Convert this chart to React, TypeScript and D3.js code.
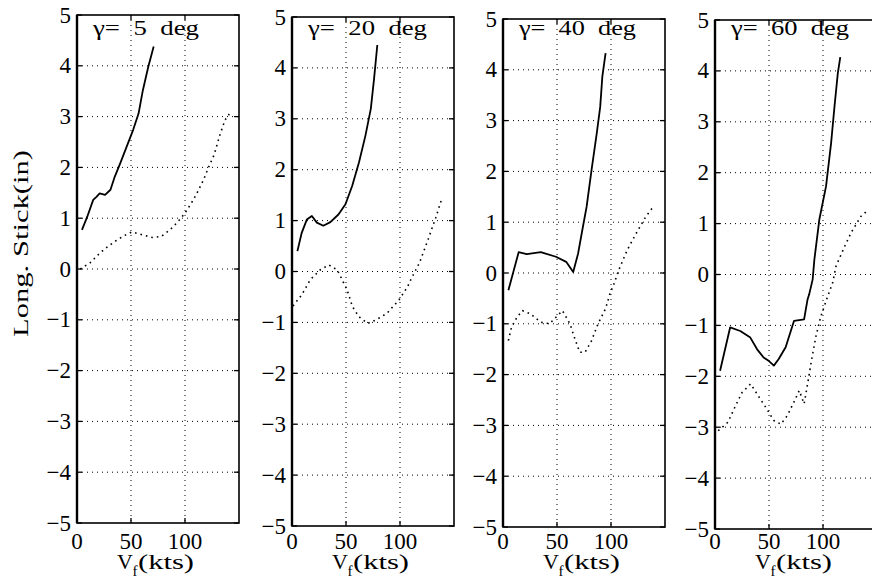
import React from 'react';
import * as d3 from 'd3';

// ---- data ----
const gammaLabels = ['γ=\u00a0\u00a05\u00a0\u00a0deg', 'γ=\u00a0\u00a020\u00a0\u00a0deg', 'γ=\u00a0\u00a040\u00a0\u00a0deg', 'γ=\u00a0\u00a060\u00a0\u00a0deg'];
const yTickValues = [-5, -4, -3, -2, -1, 0, 1, 2, 3, 4, 5];
const xTickValues = [0, 50, 100];
const xGridValues = [50, 100];

// gamma = 5 deg
const g5SolidVf = [4.6, 9.5, 15, 18, 21, 26, 31, 35, 40, 46, 52, 57, 61, 66, 71];
const g5SolidStick = [0.77, 1.03, 1.36, 1.42, 1.49, 1.46, 1.56, 1.82, 2.08, 2.41, 2.74, 3.06, 3.52, 3.98, 4.38];
const g5DotVf = [3, 12, 21, 29, 37, 44, 51, 61, 70, 78, 86, 93, 100, 106, 111, 117, 122, 127, 132, 137, 141];
const g5DotStick = [0.0, 0.12, 0.31, 0.45, 0.57, 0.66, 0.73, 0.67, 0.62, 0.64, 0.77, 0.92, 1.1, 1.3, 1.49, 1.75, 2.01, 2.25, 2.62, 2.93, 3.05];

// gamma = 20 deg
const g20SolidVf = [5, 9, 13.7, 18.4, 23, 29, 35.5, 43, 49.5, 55.7, 62, 68, 73, 76, 79];
const g20SolidStick = [0.4, 0.76, 1.02, 1.09, 0.96, 0.9, 0.97, 1.12, 1.32, 1.68, 2.14, 2.67, 3.2, 3.79, 4.45];
const g20DotVf = [1, 3, 9, 17, 26, 34, 42, 48, 51, 56, 62, 70, 78, 88, 99, 107, 110, 118, 126, 133, 139];
const g20DotStick = [-0.68, -0.62, -0.46, -0.16, 0.03, 0.13, 0.03, -0.23, -0.36, -0.69, -0.89, -1.02, -0.95, -0.82, -0.56, -0.3, -0.16, 0.17, 0.63, 1.05, 1.45];

// gamma = 40 deg
const g40SolidVf = [5, 14.5, 22, 35, 49, 58.5, 65, 69.5, 74, 77.4, 82, 86.8, 90, 92, 95];
const g40SolidStick = [-0.34, 0.41, 0.37, 0.41, 0.32, 0.22, 0.02, 0.38, 0.91, 1.3, 2.03, 2.75, 3.27, 3.87, 4.33];
const g40DotVf = [5, 8, 13, 18, 25, 35, 43, 49, 55, 62, 66, 71, 76, 82, 88, 95, 99, 103, 107, 115, 123, 132, 140];
const g40DotStick = [-1.33, -1.06, -0.87, -0.74, -0.8, -0.97, -1.0, -0.87, -0.74, -1.0, -1.26, -1.56, -1.56, -1.33, -1.0, -0.7, -0.41, -0.2, 0.05, 0.45, 0.77, 1.1, 1.33];

// gamma = 60 deg
const g60SolidVf = [4.7, 14, 23.4, 32.7, 39, 45, 50, 54.5, 59, 65.4, 73.2, 82.5, 85.7, 87.2, 90.4, 92, 96.6, 102.8, 107.5, 110.6, 113.7, 116];
const g60SolidStick = [-1.89, -1.04, -1.11, -1.24, -1.47, -1.63, -1.7, -1.79, -1.66, -1.43, -0.91, -0.88, -0.49, -0.39, -0.1, 0.29, 1.08, 1.73, 2.58, 3.29, 3.95, 4.27];
const g60DotVf = [3, 12, 19, 25, 33, 39, 47, 54.5, 61, 67, 73, 78, 82.5, 86, 89, 93.5, 98, 104, 109, 112, 120, 126, 135, 142];
const g60DotStick = [-3.07, -2.9, -2.58, -2.32, -2.15, -2.35, -2.61, -2.87, -2.94, -2.77, -2.51, -2.28, -2.54, -2.12, -1.73, -1.21, -0.82, -0.45, -0.16, 0.16, 0.55, 0.82, 1.14, 1.27];

const solidVf = [g5SolidVf, g20SolidVf, g40SolidVf, g60SolidVf];
const solidStick = [g5SolidStick, g20SolidStick, g40SolidStick, g60SolidStick];
const dotVf = [g5DotVf, g20DotVf, g40DotVf, g60DotVf];
const dotStick = [g5DotStick, g20DotStick, g40DotStick, g60DotStick];

// ---- layout ----
const W = 872;
const H = 579;
const panelLeft = [77, 292, 503, 715];
const panelTop = [15, 17, 19, 20];
const panelBottom = [523, 526, 527, 529];
const panelWidth = 162;
const titleWidths = [106, 119, 117, 118];
const FONT = 'Liberation Serif';

const fmt = (v: number) => (v < 0 ? '\u2212' + Math.abs(v) : String(v));

function Panel({ i }: { i: number }) {
  const left = panelLeft[i];
  const right = left + panelWidth;
  const top = panelTop[i];
  const bottom = panelBottom[i];
  const x = d3.scaleLinear().domain([0, 150]).range([left, right]);
  const y = d3.scaleLinear().domain([-5, 5]).range([bottom, top]);
  const line = d3
    .line<[number, number]>()
    .x((d) => x(d[0]))
    .y((d) => y(d[1]));
  const solid = solidVf[i].map((v, k) => [v, solidStick[i][k]] as [number, number]);
  const dotted = dotVf[i].map((v, k) => [v, dotStick[i][k]] as [number, number]);
  const clipId = `clip${i}`;
  return (
    <g>
      <defs>
        <clipPath id={clipId}>
          <rect x={left} y={top} width={panelWidth} height={bottom - top} />
        </clipPath>
      </defs>
      <g stroke="#000" strokeWidth={1} strokeDasharray="1,4" fill="none">
        {yTickValues
          .filter((t) => t > -5 && t < 5)
          .map((t) => (
            <line key={'gy' + t} x1={left} x2={right} y1={y(t)} y2={y(t)} />
          ))}
        {xGridValues.map((t) => (
          <line key={'gx' + t} x1={x(t)} x2={x(t)} y1={top} y2={bottom} />
        ))}
      </g>
      <g clipPath={`url(#${clipId})`} fill="none">
        <path d={line(dotted) || ''} stroke="#000" strokeWidth={1.6} strokeDasharray="1.6,4" />
        <path d={line(solid) || ''} stroke="#000" strokeWidth={1.8} strokeLinejoin="round" />
      </g>
      <rect x={left} y={top} width={panelWidth} height={bottom - top} fill="none" stroke="#000" strokeWidth={1.6} />
      <line x1={left} x2={left} y1={top} y2={bottom} stroke="#000" strokeWidth={2.4} />
      <g stroke="#000" strokeWidth={1.3}>
        {yTickValues.map((t) => (
          <g key={'ty' + t}>
            <line x1={left} x2={left + 5} y1={y(t)} y2={y(t)} />
            <line x1={right} x2={right - 5} y1={y(t)} y2={y(t)} />
          </g>
        ))}
        {xTickValues.map((t) => (
          <g key={'tx' + t}>
            <line x1={x(t)} x2={x(t)} y1={bottom} y2={bottom - 5} />
            <line x1={x(t)} x2={x(t)} y1={top} y2={top + 5} />
          </g>
        ))}
      </g>
      {yTickValues.map((t) => (
        <text
          key={'ly' + t}
          x={left - 6}
          y={y(t)}
          textAnchor="end"
          dominantBaseline="central"
          fontFamily={FONT}
          fontSize={23}
          fill="#000"
        >
          {fmt(t)}
        </text>
      ))}
      {xTickValues.map((t) => (
        <text key={'lx' + t} x={x(t)} y={549} textAnchor="middle" fontFamily={FONT} fontSize={23} fill="#000">
          {fmt(t)}
        </text>
      ))}
      <text x={left + 40} y={569} fontFamily={FONT} fontSize={22} fill="#000">V</text>
      <text x={left + 55.5} y={576} fontFamily={FONT} fontSize={15} fill="#000">f</text>
      <text
        x={left + 61}
        y={569}
        fontFamily={FONT}
        fontSize={22}
        fill="#000"
        textLength={56}
        lengthAdjust="spacingAndGlyphs"
      >
        (kts)
      </text>
      <text
        x={left + 16}
        y={35}
        fontFamily={FONT}
        fontSize={20}
        fill="#000"
        textLength={titleWidths[i]}
        lengthAdjust="spacingAndGlyphs"
      >
        {gammaLabels[i]}
      </text>
    </g>
  );
}

export default function App() {
  return (
    <svg
      width={W}
      height={H}
      viewBox={`0 0 ${W} ${H}`}
      style={{ position: 'absolute', left: 0, top: 0, background: '#fff', display: 'block' }}
    >
      <rect x={0} y={0} width={W} height={H} fill="#fff" />
      {[0, 1, 2, 3].map((i) => (
        <Panel key={i} i={i} />
      ))}
      <text
        transform="rotate(-90)"
        x={-243.5}
        y={28}
        textAnchor="middle"
        fontFamily={FONT}
        fontSize={22}
        fill="#000"
        textLength={187}
        lengthAdjust="spacingAndGlyphs"
      >
        Long. Stick(in)
      </text>
    </svg>
  );
}
